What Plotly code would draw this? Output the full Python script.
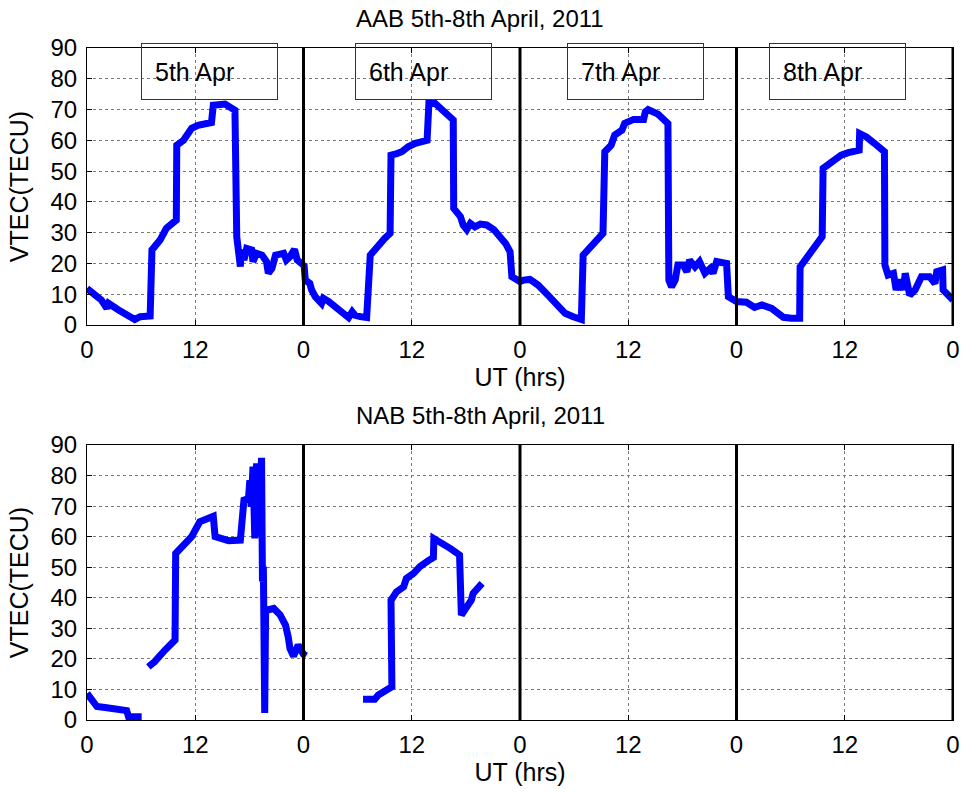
import plotly.graph_objects as go

# ---------------- data ----------------
aab_ut = [0.0, 1.6, 2.2, 2.4, 3.5, 4.9, 5.3, 5.9, 7.0, 7.2, 8.1, 8.8, 9.9, 9.95, 10.7, 11.6, 12.3,
          13.8, 14.0, 15.3, 16.4, 16.6, 16.85, 17.0, 17.1, 17.4, 17.7, 18.25, 18.4, 18.8, 19.4, 19.9,
          20.1, 20.5, 20.9, 21.8, 22.1, 22.5, 23.0, 23.3, 24.0,
          24.05, 24.2, 24.7, 24.9, 25.3, 26.0, 26.2, 26.8, 28.1, 29.0, 29.4, 29.7, 30.3, 31.0, 31.4,
          32.3, 33.0, 33.6, 33.7, 34.35, 34.9, 35.6, 36.4, 37.7, 37.9, 38.6, 40.6, 40.65, 41.4, 41.7,
          42.1, 42.5, 43.0, 43.6, 44.3, 45.1, 45.8, 46.4, 46.9, 47.1, 48.0,
          48.4, 49.1, 50.0, 51.1, 52.1, 53.0, 53.9, 54.8, 55.0, 57.2, 57.4, 58.1, 58.5, 59.3, 59.6,
          60.6, 61.7, 61.9, 62.2, 63.3, 64.4, 64.5, 64.8, 65.2, 65.5, 66.1, 66.5, 66.8, 67.4, 67.9,
          68.5, 69.1, 69.4, 69.8, 70.9, 71.1, 72.0,
          73.1, 74.0, 74.8, 75.9, 77.2, 78.1, 79.0, 79.05, 80.3, 81.5, 81.6, 82.3, 83.1, 83.6, 84.4,
          85.6, 85.65, 86.4, 87.3, 88.4, 88.45, 88.8, 89.4, 89.7, 90.1, 90.5, 90.7, 91.2, 91.8, 92.5,
          93.4, 94.0, 94.2, 94.85, 94.9, 96.0]
aab_tec = [11.9, 8.1, 5.4, 7.0, 4.9, 2.2, 1.8, 2.7, 2.9, 24.4, 27.6, 31.4, 34.1, 58.4, 60.0, 63.9, 64.9,
           65.8, 71.4, 71.8, 69.8, 28.7, 21.1, 19.0, 24.4, 21.1, 24.9, 24.4, 20.6, 23.3, 22.7, 20.6,
           16.8, 18.4, 22.7, 23.3, 21.1, 22.2, 24.6, 21.1, 19.5,
           20.0, 14.6, 13.5, 11.4, 9.2, 7.0, 8.7, 7.6, 4.3, 2.4, 4.3, 3.2, 2.7, 2.4, 22.7,
           26.0, 28.1, 29.8, 55.2, 55.7, 56.3, 57.9, 59.0, 60.0, 72.0, 72.0, 66.6, 37.9, 35.2, 32.5,
           31.0, 33.0, 31.9, 32.8, 32.5, 31.0, 28.7, 26.5, 23.8, 15.7, 14.1,
           14.6, 14.8, 13.0, 9.7, 6.5, 3.8, 2.7, 1.8, 22.7, 29.8, 56.3, 58.4, 61.7, 63.3, 65.5,
           66.8, 66.8, 69.3, 70.0, 68.5, 65.5, 14.6, 12.4, 14.6, 19.5, 19.5, 17.3, 21.1, 18.9, 20.6,
           16.8, 18.4, 16.8, 20.6, 20.0, 9.2, 7.6,
           7.4, 5.7, 6.5, 5.4, 2.5, 2.2, 2.2, 18.9, 23.8, 28.7, 50.9, 52.3, 54.1, 55.2, 56.0,
           56.8, 62.2, 61.1, 59.0, 56.3, 19.5, 16.2, 16.8, 11.4, 14.6, 11.4, 16.8, 9.7, 11.4, 15.7,
           15.7, 13.5, 17.3, 17.9, 11.4, 8.1]

nab_ut = [0.0, 0.5, 1.1, 2.0, 3.1, 4.4, 4.6, 6.06, None,
          6.8, 7.5, 8.65, 9.76, 9.83, 10.9, 11.6, 12.5, 14.0, 14.2, 15.7, 17.0, 17.15, 17.3, 17.4,
          17.9, 18.05, 18.2, 18.4, 18.6, 18.8, 19.0, 19.2, 19.35, 19.45, 19.55, 19.7, 19.8, 20.0,
          20.7, 21.4, 22.0, 22.3, 22.5, 22.9, 23.4, 24.0, 24.3, None,
          30.6, 31.9, 32.3, 33.4, 33.8, 33.7, 34.3, 35.1, 35.4, 36.2, 36.9, 37.8, 38.4, 38.45, 39.3,
          40.3, 41.3, 41.5, 42.1, 42.6, 42.8, 43.4, 43.8]
nab_tec = [8.7, 7.1, 4.4, 4.1, 3.5, 3.1, 1.1, 1.1, None,
           17.4, 19.1, 22.9, 26.2, 54.5, 57.8, 60.0, 64.9, 66.7, 60.0, 58.7, 58.9, 65.4, 66.0, 72.0,
           72.5, 78.5, 69.8, 82.9, 59.4, 84.0, 60.0, 85.3, 85.8, 45.3, 50.2, 2.3, 35.4, 36.0,
           36.5, 34.4, 31.1, 27.3, 23.4, 20.9, 24.5, 21.5, 21.0, None,
           6.8, 6.8, 8.2, 10.4, 10.9, 39.2, 41.9, 43.6, 46.3, 48.0, 50.2, 52.1, 53.2, 59.4, 58.0,
           56.1, 54.0, 34.3, 37.0, 39.2, 41.4, 43.6, 44.7]

tick_vals = [0, 12, 24, 36, 48, 60, 72, 84, 96]
tick_text = ["0", "12", "0", "12", "0", "12", "0", "12", "0"]
day_bounds = [24, 48, 72, 96]
day_labels = ["5th Apr", "6th Apr", "7th Apr", "8th Apr"]
day_label_x = [13.6, 37.3, 60.75, 83.2]
titles = ["AAB 5th-8th April, 2011", "NAB 5th-8th April, 2011"]

# ---------------- figure ----------------
FONT = "Liberation Sans, Arial, sans-serif"
fig = go.Figure()
line_style = dict(color="#0000FF", width=7)
fig.add_trace(go.Scatter(x=aab_ut, y=aab_tec, mode="lines", line=line_style,
                         xaxis="x", yaxis="y", showlegend=False, connectgaps=False))
fig.add_trace(go.Scatter(x=nab_ut, y=nab_tec, mode="lines", line=line_style,
                         xaxis="x2", yaxis="y2", showlegend=False, connectgaps=False))

top_dom = [0.5878, 1.0]
bot_dom = [0.0, 0.4092]

def xax(anchor):
    return dict(range=[0, 96], tickvals=tick_vals, ticktext=tick_text, anchor=anchor,
                showline=True, linecolor="black", linewidth=1, mirror="ticks",
                ticks="inside", ticklen=5, tickcolor="black",
                showgrid=True, gridcolor="#7a7a7a", gridwidth=1, griddash="dot",
                zeroline=False, tickfont=dict(family=FONT, size=24, color="black"),
                ticklabelstandoff=3, automargin=False,
                title=dict(text="UT (hrs)", font=dict(family=FONT, size=25, color="black"), standoff=6))

def yax(anchor, dom):
    return dict(range=[0, 90], dtick=10, tick0=0, anchor=anchor, domain=dom,
                showline=True, linecolor="black", linewidth=1, mirror="ticks",
                ticks="inside", ticklen=5, tickcolor="black",
                showgrid=True, gridcolor="#7a7a7a", gridwidth=1, griddash="dot",
                zeroline=False, tickfont=dict(family=FONT, size=24, color="black"),
                ticklabelstandoff=4, automargin=False,
                title=dict(text="VTEC(TECU)", font=dict(family=FONT, size=25, color="black"), standoff=14))

shapes = []
annotations = []
for xr, yr in (("x", "y"), ("x2", "y2")):
    for b in day_bounds:
        shapes.append(dict(type="line", xref=xr, yref=yr + " domain", x0=b, x1=b, y0=0, y1=1,
                           line=dict(color="black", width=3), layer="above"))

for lbl, lx in zip(day_labels, day_label_x):
    annotations.append(dict(text=lbl, x=lx, y=82.5, xref="x", yref="y", showarrow=False,
                            xanchor="center", yanchor="middle", align="left",
                            width=109, height=29, borderpad=13, borderwidth=1,
                            bordercolor="#333333", bgcolor="rgba(0,0,0,0)",
                            font=dict(family=FONT, size=25, color="black")))

for t, dom in zip(titles, (top_dom, bot_dom)):
    annotations.append(dict(text=t, x=0.454, y=dom[1], xref="paper", yref="paper",
                            showarrow=False, xanchor="center", yanchor="bottom", yshift=14,
                            font=dict(family=FONT, size=24, color="black")))

fig.update_layout(
    width=961, height=794,
    margin=dict(l=87, r=8, t=48, b=74),
    paper_bgcolor="white", plot_bgcolor="white",
    xaxis=xax("y"), yaxis=yax("x", top_dom),
    xaxis2=xax("y2"), yaxis2=yax("x2", bot_dom),
    shapes=shapes, annotations=annotations,
    showlegend=False,
)

fig.write_html("out.html")
